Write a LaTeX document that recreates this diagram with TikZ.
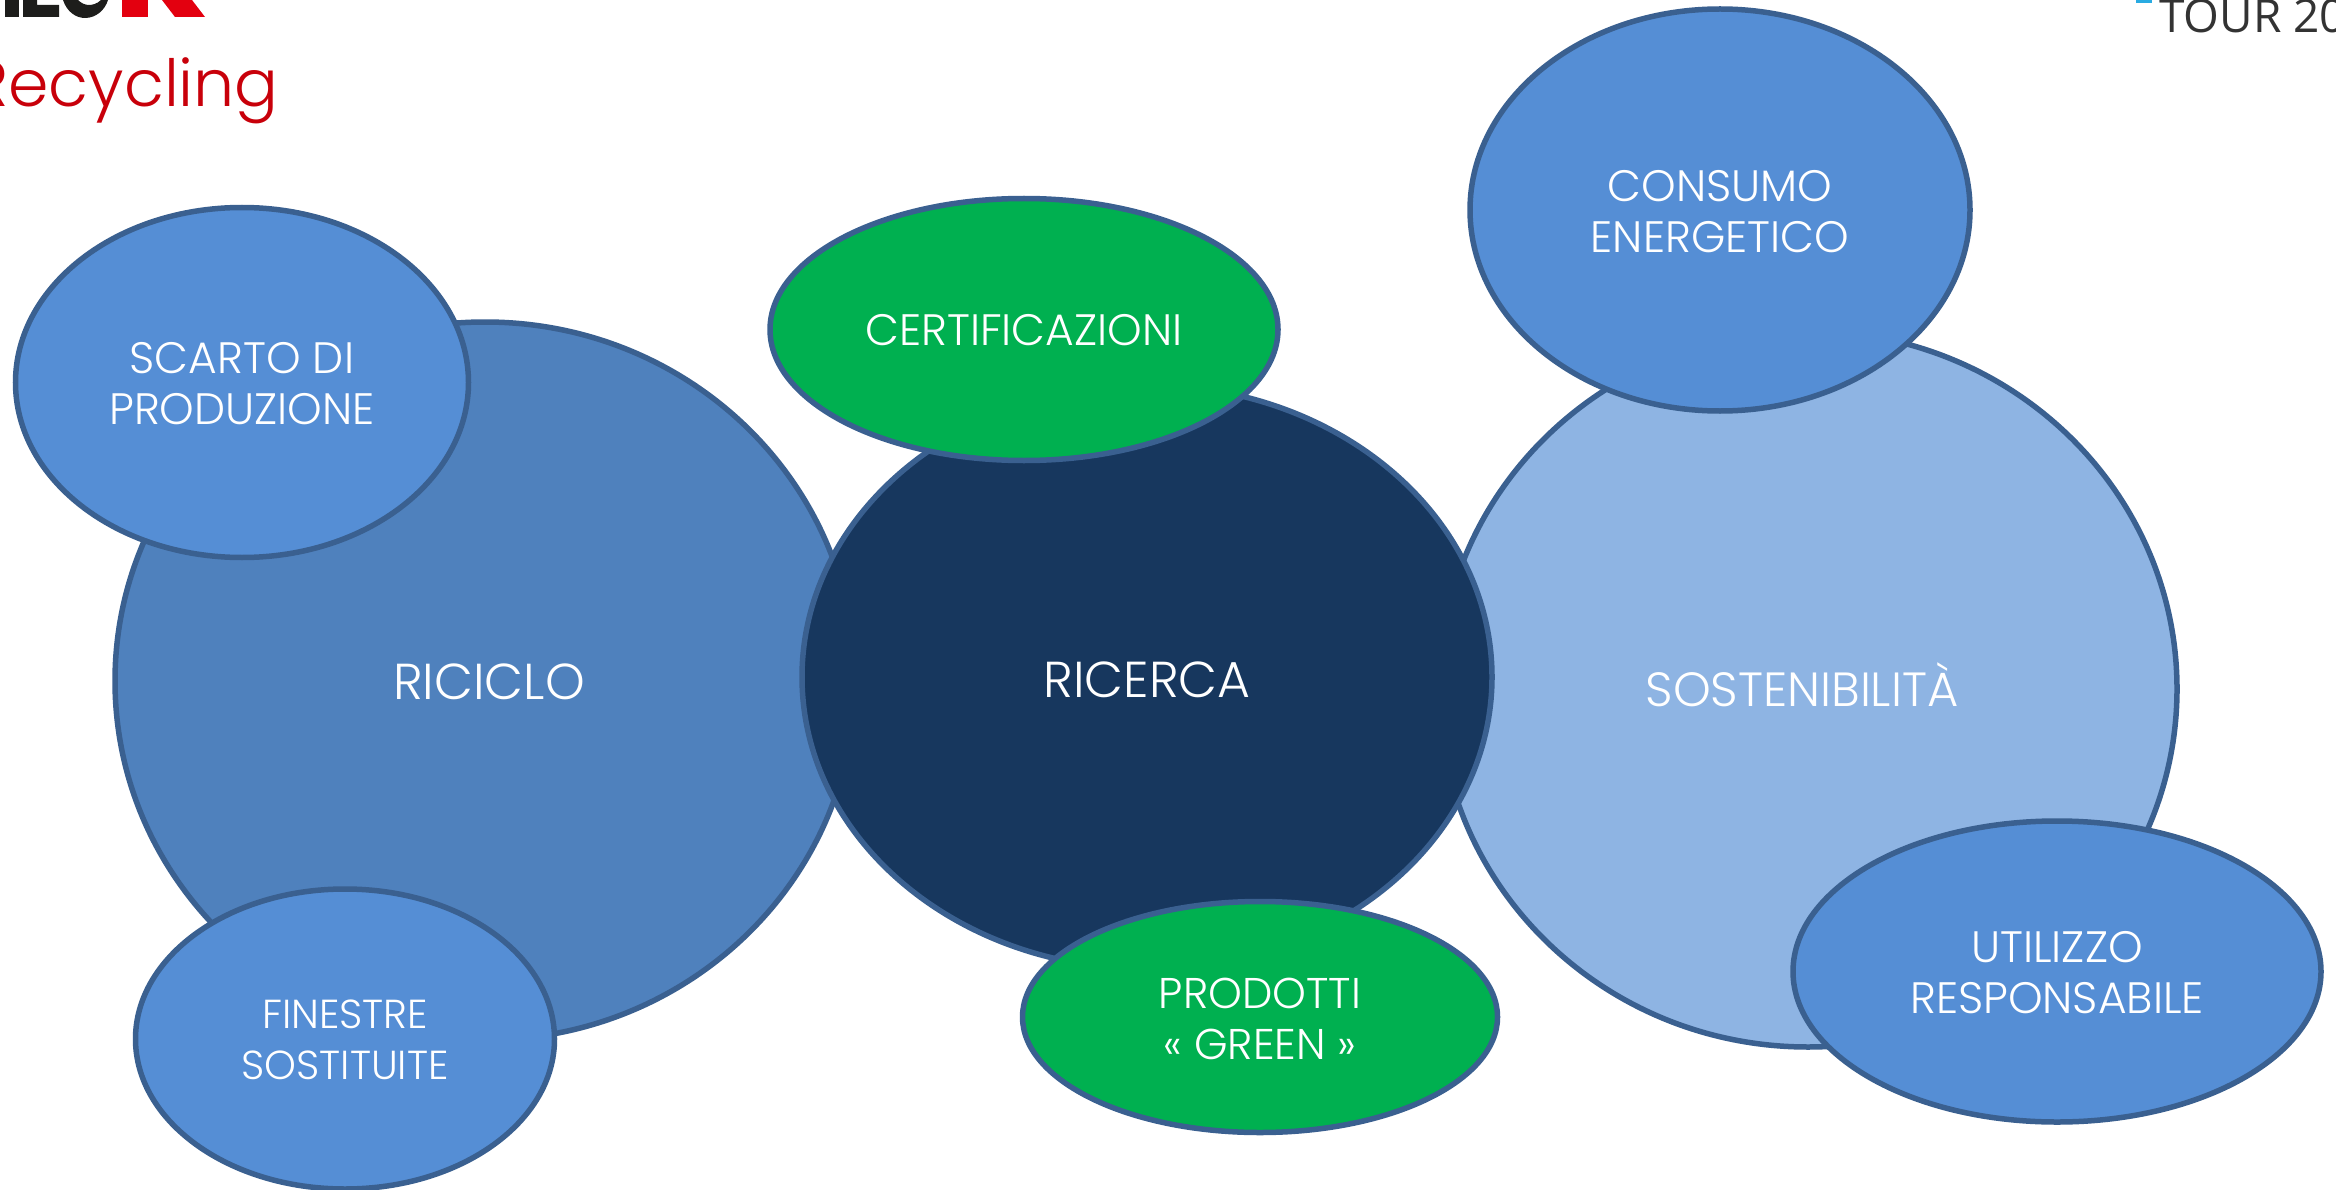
\documentclass[tikz,border=0pt]{standalone}
\usepackage{fontspec}
\newfontfamily\gothic{Poppins Light}
\newfontfamily\tourfont{Open Sans}
\definecolor{edge}{HTML}{3A6090}
\definecolor{satblue}{HTML}{558ED5}
\definecolor{midblue}{HTML}{4F81BD}
\definecolor{navy}{HTML}{17375E}
\definecolor{paleblue}{HTML}{8EB4E3}
\definecolor{greenfill}{HTML}{00B050}
\definecolor{titlered}{HTML}{C8000A}
\definecolor{logored}{HTML}{E3000F}
\definecolor{logoblack}{HTML}{1D1D1B}
\definecolor{tourgrey}{HTML}{333333}
\definecolor{tourblue}{HTML}{29ABE2}
\tikzset{
  blob/.style={draw=edge,line width=5.5pt,fill=#1},
  lab/.style={font=\gothic\fontsize{44}{51}\selectfont,text=white,align=center,inner sep=0pt},
  mainlab/.style={font=\gothic\fontsize{50.5}{51}\selectfont,text=white,align=center,inner sep=0pt}
}
\begin{document}
\begin{tikzpicture}[x=1pt,y=-1pt]
\useasboundingbox (0,0) rectangle (2336,1190);
\clip (0,0) rectangle (2336,1190);
% logo
\fill[logoblack] (5,0) rectangle (19,17);
\fill[logoblack] (23,0) rectangle (37,5) (23,5) rectangle (59,17);
\fill[logoblack] (63,0) .. controls (67,12) and (76,18) .. (85,18) .. controls (96,18) and (105,10) .. (108,0) -- (101,0) .. controls (97,4) and (92,5) .. (89,5) .. controls (85,5) and (81,3) .. (78,0) -- cycle;
\fill[logored] (122,0) rectangle (148,17);
\fill[logored] (162,0) -- (192,0) -- (205,17) -- (175,17) -- cycle;
% title
\node[anchor=base east,inner sep=0pt,text=titlered,font=\gothic\fontsize{65}{65}\selectfont] (title) at (279,107) {Recycling};
% tour
\fill[tourblue] (2136,0) rectangle (2152,3);
\node[anchor=base west,inner sep=0pt,text=tourgrey,font=\tourfont\fontsize{46}{46}\selectfont] (tour) at (2159,33) {TOUR 20};
% big
\draw[blob=midblue] (485,681) ellipse [x radius=370,y radius=359];
\draw[blob=paleblue] (1808,689) ellipse [x radius=369,y radius=358];
\draw[blob=navy] (1147,677) ellipse [x radius=345,y radius=292];
\node[mainlab] (riciclo) at (489,682) {RICICLO};
\node[mainlab] (ricerca) at (1147,680) {RICERCA};
\node[mainlab,font=\gothic\fontsize{48}{51}\selectfont,anchor=base] (sost) at (1802,706) {SOSTENIBILITÀ};
% satellites
\draw[blob=satblue] (242,382.5) ellipse [x radius=226.5,y radius=175];
\node[lab] (scarto) at (242,384) {SCARTO DI\\PRODUZIONE};
\draw[blob=satblue] (345,1039) ellipse [x radius=209.5,y radius=150];
\node[lab,font=\gothic\fontsize{40.5}{51}\selectfont] (finestre) at (345,1040) {FINESTRE\\SOSTITUITE};
\draw[blob=greenfill] (1024,329.5) ellipse [x radius=254,y radius=131];
\node[lab] (cert) at (1024,330) {CERTIFICAZIONI};
\draw[blob=greenfill] (1260,1017) ellipse [x radius=237.5,y radius=115.5];
\node[lab,font=\gothic\fontsize{43}{51}\selectfont] (prod) at (1260,1019) {PRODOTTI\\« GREEN »};
\draw[blob=satblue] (1720,210) ellipse [x radius=250,y radius=201];
\node[lab] (cons) at (1720,212) {CONSUMO\\ENERGETICO};
\draw[blob=satblue] (2057,971.5) ellipse [x radius=264,y radius=150.5];
\node[lab] (util) at (2057,973) {UTILIZZO\\RESPONSABILE};
\end{tikzpicture}
\end{document}
